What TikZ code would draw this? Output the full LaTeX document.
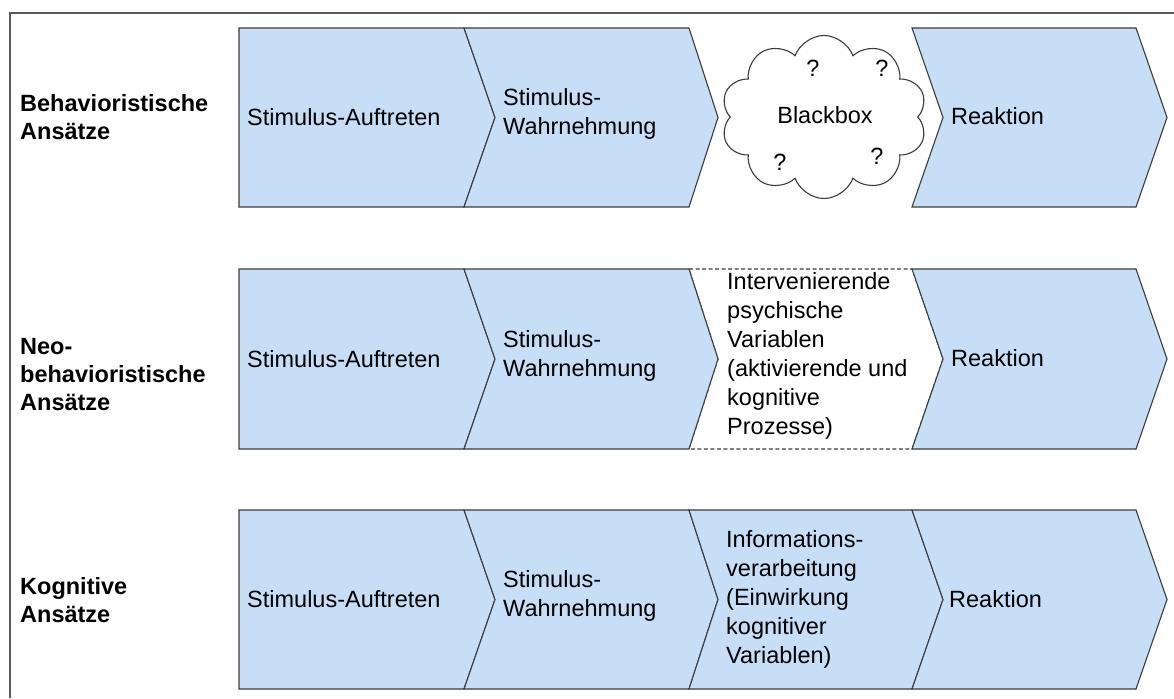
\documentclass[tikz,border=0pt]{standalone}
\usepackage{fontspec}
\setmainfont{Liberation Sans}
\usetikzlibrary{shapes.symbols}
\definecolor{chevfill}{RGB}{198,223,247}
\definecolor{chevline}{RGB}{60,60,60}
\definecolor{framecol}{RGB}{90,90,90}
\tikzset{
  chev/.style={draw=chevline, line width=1.1pt, fill=chevfill, line join=miter},
  chevdash/.style={draw=chevline, line width=1.1pt, fill=white, dash pattern=on 4pt off 2.5pt},
  txt/.style={anchor=west, align=left, inner sep=0pt, font=\fontsize{23.5}{29}\selectfont},
  lbl/.style={anchor=west, align=left, inner sep=0pt, font=\bfseries\fontsize{23.5}{28}\selectfont},
  qm/.style={inner sep=0pt, font=\fontsize{23.5}{28}\selectfont},
}
\begin{document}
\begin{tikzpicture}[x=1pt,y=-1pt]
\useasboundingbox (0,0) rectangle (1174,698);
\fill[white] (0,0) rectangle (1174,698);
% frame (top and left edges visible)
\draw[framecol, line width=1.6pt] (10,698) -- (10,13) -- (1174,13);

% ---------- Row 1 ----------
\def\T{28}\def\B{207}\def\M{117.5}
\draw[chev] (239,\T) -- (464,\T) -- (495,\M) -- (464,\B) -- (239,\B) -- cycle;
\draw[chev] (464,\T) -- (689,\T) -- (718,\M) -- (689,\B) -- (464,\B) -- (495,\M) -- cycle;
\draw[chev] (912,\T) -- (1136,\T) -- (1167,\M) -- (1136,\B) -- (912,\B) -- (943,\M) -- cycle;
\node[cloud, cloud puffs=10, cloud puff arc=140, cloud ignores aspect, draw=chevline, line width=1.1pt, fill=white,
      minimum width=206pt, minimum height=163pt, inner sep=0pt] (cl) at (824,117) {};
\node[qm] (bb) at (825,115) {Blackbox};
\node[qm] (q1) at (813,68) {?};
\node[qm] (q2) at (882,68) {?};
\node[qm] (q3) at (780,162) {?};
\node[qm] (q4) at (877,156) {?};
\node[lbl] (l1) at (20,117.5) {Behavioristische\\Ansätze};
\node[txt] (a1) at (247,117) {Stimulus-Auftreten};
\node[txt] (b1) at (503,114) {Stimulus-\\Wahrnehmung};
\node[txt] (d1) at (951,116) {Reaktion};

% ---------- Row 2 ----------
\def\T{269}\def\B{449}\def\M{359}
\draw[chevdash] (689,\T) -- (912,\T) -- (943,\M) -- (912,\B) -- (689,\B) -- (718,\M) -- cycle;
\draw[chev] (239,\T) -- (464,\T) -- (495,\M) -- (464,\B) -- (239,\B) -- cycle;
\draw[chev] (464,\T) -- (689,\T) -- (718,\M) -- (689,\B) -- (464,\B) -- (495,\M) -- cycle;
\draw[chev] (912,\T) -- (1136,\T) -- (1167,\M) -- (1136,\B) -- (912,\B) -- (943,\M) -- cycle;
\node[lbl] (l2) at (20,375) {Neo-\\behavioristische\\Ansätze};
\node[txt] (a2) at (247,359) {Stimulus-Auftreten};
\node[txt] (b2) at (503,356) {Stimulus-\\Wahrnehmung};
\node[txt] (c2) at (727,356) {Intervenierende\\psychische\\Variablen\\(aktivierende und\\kognitive\\Prozesse)};
\node[txt] (d2) at (951,358) {Reaktion};

% ---------- Row 3 ----------
\def\T{510}\def\B{689}\def\M{599.5}
\draw[chev] (239,\T) -- (464,\T) -- (495,\M) -- (464,\B) -- (239,\B) -- cycle;
\draw[chev] (464,\T) -- (689,\T) -- (718,\M) -- (689,\B) -- (464,\B) -- (495,\M) -- cycle;
\draw[chev] (689,\T) -- (912,\T) -- (943,\M) -- (912,\B) -- (689,\B) -- (718,\M) -- cycle;
\draw[chev] (912,\T) -- (1136,\T) -- (1167,\M) -- (1136,\B) -- (912,\B) -- (943,\M) -- cycle;
\node[lbl] (l3) at (20,600) {Kognitive\\Ansätze};
\node[txt] (a3) at (247,599) {Stimulus-Auftreten};
\node[txt] (b3) at (503,596) {Stimulus-\\Wahrnehmung};
\node[txt] (c3) at (726,599) {Informations-\\verarbeitung\\(Einwirkung\\kognitiver\\Variablen)};
\node[txt] (d3) at (949,599) {Reaktion};
\end{tikzpicture}
\end{document}
